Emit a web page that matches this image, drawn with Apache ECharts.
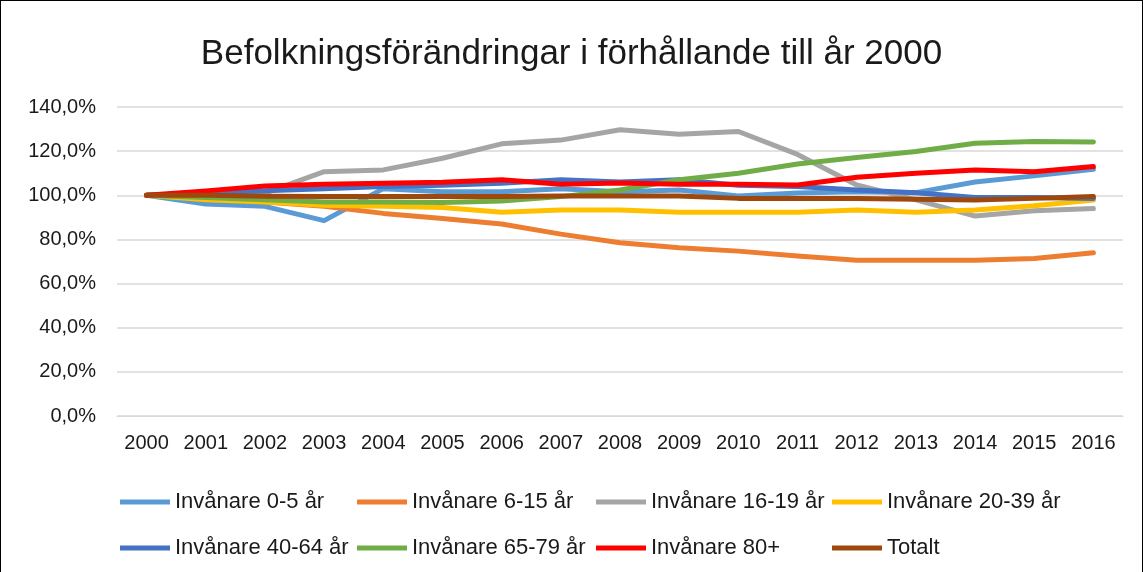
<!DOCTYPE html>
<html>
<head>
<meta charset="utf-8">
<script src="https://cdn.jsdelivr.net/npm/echarts@6/dist/echarts.min.js"></script>
<style>
  html, body { margin: 0; padding: 0; background: #fff; }
  #chart { width: 1141px; height: 571px; border: 1px solid #000; border-bottom: none; }
</style>
</head>
<body>
<div id="chart"></div>
<script>
// år på x-axeln
const years = ['2000', '2001', '2002', '2003', '2004', '2005', '2006', '2007', '2008',
  '2009', '2010', '2011', '2012', '2013', '2014', '2015', '2016'];

// värden i procent av år 2000
const inv0_5 = [100, 96, 95, 88.5, 103, 101.6, 101.6, 103, 101.6, 102.4, 99.7, 101, 101.6, 101.2, 106, 108.8, 111.8];
const inv6_15 = [100, 99, 97, 95, 91.8, 89.5, 87, 82.4, 78.5, 76.2, 74.7, 72.5, 70.6, 70.6, 70.6, 71.4, 74];
const inv16_19 = [100, 101, 101, 110.7, 111.5, 116.8, 123.3, 125, 129.7, 127.7, 128.9, 118.5, 104.7, 97.9, 90.6, 93, 94];
const inv20_39 = [100, 98, 97, 95.5, 95, 94.5, 92.3, 93.3, 93.3, 92.3, 92.3, 92.3, 93.3, 92.3, 93.3, 95.3, 97.9];
const inv40_64 = [100, 101, 102, 103, 104, 104.5, 105.5, 107, 106, 107, 104.5, 104, 102.4, 101.2, 99, 99, 98.6];
const inv65_79 = [100, 99, 98, 97, 97, 96.7, 97.4, 99.4, 102.4, 107, 110, 114.2, 117.1, 119.8, 123.6, 124.4, 124.1];
const inv80 = [100, 102, 104.2, 105, 105.4, 105.9, 107, 105, 105.6, 105, 105, 104.7, 108.2, 110, 111.5, 110.7, 113];
const totalt = [100, 100, 99.6, 99.5, 99.5, 99.4, 99.4, 99.7, 99.7, 99.7, 98.6, 98.6, 98.6, 98.2, 97.9, 98.6, 99.4];

const yTicks = { min: 0, max: 140, interval: 20 };

const names = ['Invånare 0-5 år', 'Invånare 6-15 år', 'Invånare 16-19 år', 'Invånare 20-39 år',
  'Invånare 40-64 år', 'Invånare 65-79 år', 'Invånare 80+', 'Totalt'];
const colors = ['#5B9BD5', '#ED7D31', '#A5A5A5', '#FFC000', '#4472C4', '#70AD47', '#FF0000', '#9E480E'];
const values = [inv0_5, inv6_15, inv16_19, inv20_39, inv40_64, inv65_79, inv80, totalt];

const font = 'Liberation Sans, Arial, sans-serif';
const textColor = '#1a1a1a';
const chart = echarts.init(document.getElementById('chart'));

// en legend per post, fyra kolumner i två rader
const legendCols = [114, 351, 590, 826];
const legendRows = [485, 531];
const legends = names.map((n, i) => ({
  left: legendCols[i % 4],
  top: legendRows[Math.floor(i / 4)],
  itemWidth: 50,
  itemHeight: 5,
  icon: 'rect',
  data: [n],
  textStyle: { fontFamily: font, fontSize: 22, color: textColor }
}));

chart.setOption({
  animation: false,
  color: colors,
  title: {
    text: 'Befolkningsförändringar i förhållande till år 2000',
    left: 'center',
    top: 31,
    textStyle: { fontFamily: font, fontSize: 35, fontWeight: 'normal', color: textColor }
  },
  legend: legends,
  grid: { left: 116, right: 19, top: 106, bottom: 156 },
  xAxis: {
    type: 'category',
    data: years,
    boundaryGap: true,
    axisLine: { lineStyle: { color: '#d9d9d9', width: 1 } },
    axisTick: { show: false },
    axisLabel: { fontFamily: font, fontSize: 20, color: textColor, margin: 17 }
  },
  yAxis: {
    type: 'value',
    min: yTicks.min,
    max: yTicks.max,
    interval: yTicks.interval,
    axisLine: { show: false },
    axisTick: { show: false },
    splitLine: { lineStyle: { color: '#d9d9d9', width: 1.5 } },
    axisLabel: {
      fontFamily: font, fontSize: 20, color: textColor, margin: 21,
      formatter: v => v.toFixed(1).replace('.', ',') + '%'
    }
  },
  series: names.map((n, i) => ({
    name: n,
    type: 'line',
    data: values[i],
    symbol: 'none',
    lineStyle: { width: 5, color: colors[i], cap: 'round', join: 'round' }
  }))
});
</script>
</body>
</html>
